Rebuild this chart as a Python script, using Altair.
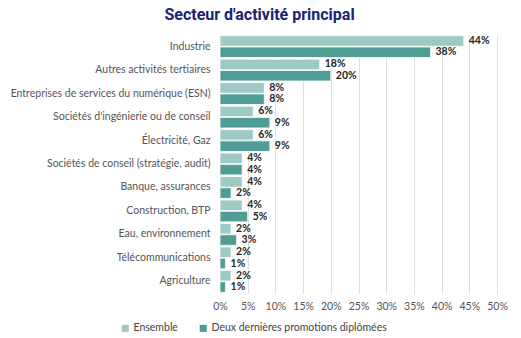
import altair as alt
import pandas as pd

categories = [
    "Industrie",
    "Autres activités tertiaires",
    "Entreprises de services du numérique (ESN)",
    "Sociétés d'ingénierie ou de conseil",
    "Électricité, Gaz",
    "Sociétés de conseil (stratégie, audit)",
    "Banque, assurances",
    "Construction, BTP",
    "Eau, environnement",
    "Télécommunications",
    "Agriculture",
]
series = ["Ensemble", "Deux dernières promotions diplômées"]
ensemble = [44, 18, 8, 6, 6, 4, 4, 4, 2, 2, 2]
deux_dernieres = [38, 20, 8, 9, 9, 4, 2, 5, 3, 1, 1]
colors = ["#9dcac4", "#4f9d95"]
ticks = [0, 5, 10, 15, 20, 25, 30, 35, 40, 45, 50]

rows = []
for c, a, b in zip(categories, ensemble, deux_dernieres):
    rows.append({"cat": c, "serie": series[0], "v": a, "lab": f"{a}%"})
    rows.append({"cat": c, "serie": series[1], "v": b, "lab": f"{b}%"})
df = pd.DataFrame(rows)

font = "Lato"

xscale = alt.Scale(domain=[0, 50], nice=False, zero=True)
xaxis = alt.Axis(values=ticks, tickCount=11, labelExpr="datum.value + '%'", labelFont=font,
                 labelFontSize=10.5, labelColor="#555555", ticks=False,
                 labelOverlap=False, labelFlush=False,
                 domain=False, grid=True, gridColor="#dedede", labelPadding=8)
yscale = alt.Scale(paddingInner=0.07, paddingOuter=0.03)
yaxis = alt.Axis(labelFont=font, labelFontSize=10.5, labelColor="#555555",
                 ticks=False, domain=False, labelPadding=10, labelLimit=300)
yoffscale = alt.Scale(paddingInner=0.06)

bars = alt.Chart(df).mark_bar(stroke="white", strokeWidth=0.8).encode(
    y=alt.Y("cat:N", sort=categories, title=None, scale=yscale, axis=yaxis),
    yOffset=alt.YOffset("serie:N", sort=series, scale=yoffscale),
    x=alt.X("v:Q", title=None, scale=xscale, axis=xaxis),
    color=alt.Color("serie:N", sort=series,
                    scale=alt.Scale(domain=series, range=colors),
                    legend=alt.Legend(title=None, orient="none", direction="horizontal",
                                      legendX=-100, legendY=288, symbolType="square",
                                      symbolSize=50, symbolStrokeWidth=0,
                                      labelFont=font, labelFontSize=10.5, labelLimit=300,
                                      labelColor="#444444", columnPadding=20,
                                      labelOffset=3)),
)
texts = alt.Chart(df).mark_text(align="left", baseline="middle", dx=5, dy=0,
                                font=font, fontSize=10.5, fontWeight="bold",
                                color="#262626").encode(
    y=alt.Y("cat:N", sort=categories, title=None, scale=yscale, axis=yaxis),
    yOffset=alt.YOffset("serie:N", sort=series, scale=yoffscale),
    x=alt.X("v:Q", title=None, scale=xscale, axis=xaxis),
    text="lab:N",
)

chart = alt.layer(bars, texts).properties(
    width=277, height=258,
    autosize=alt.AutoSizeParams(type="none"),
    padding={"left": 220, "top": 35, "right": 24, "bottom": 45},
    title=alt.TitleParams("Secteur d'activité principal", font="Roboto", fontSize=16,
                          fontWeight="bold", color="#1b2275", anchor="middle",
                          dx=-99, offset=12),
).configure_view(stroke=None)

chart.save("out.html", embed_options={"renderer": "svg", "actions": False})
